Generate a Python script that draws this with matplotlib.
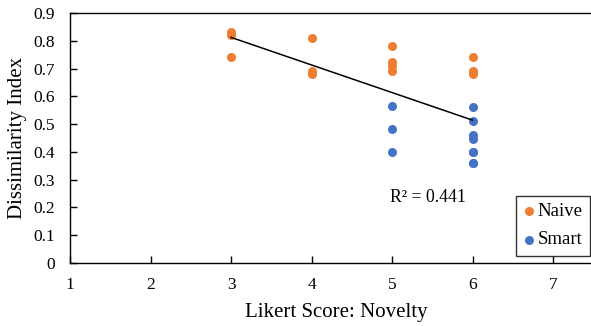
import numpy as np
import matplotlib
matplotlib.use('Agg')
import matplotlib.pyplot as plt

# ---- data (some points at x=6 overlap exactly) ----
naive_x = [3, 3, 3, 4, 4, 4, 5, 5, 5, 5, 6, 6, 6]
naive_y = [0.83, 0.82, 0.74, 0.81, 0.69, 0.68, 0.78, 0.725, 0.71, 0.69, 0.74, 0.69, 0.68]
smart_x = [5, 5, 5, 6, 6, 6, 6, 6, 6, 6, 6]
smart_y = [0.565, 0.484, 0.40, 0.56, 0.51, 0.46, 0.445, 0.40, 0.40, 0.36, 0.36]
r2_label = 'R² = 0.441'
x_ticks = [1, 2, 3, 4, 5, 6, 7]
y_ticks = [0, 0.1, 0.2, 0.3, 0.4, 0.5, 0.6, 0.7, 0.8, 0.9]

plt.rcParams['font.family'] = ['Liberation Serif', 'DejaVu Serif']

W, H = 591, 326
fig = plt.figure(figsize=(W / 100, H / 100), dpi=100)
# axes runs past the right edge (image is cropped there)
ax = fig.add_axes([70 / W, (H - 263) / H, 563.5 / W, 250 / H])

ax.scatter(naive_x, naive_y, s=42, color='#ED7D31', label='Naive', zorder=3, linewidths=0)
ax.scatter(smart_x, smart_y, s=42, color='#4472C4', label='Smart', zorder=3, linewidths=0)

# linear trendline over all points
all_x = np.array(naive_x + smart_x, dtype=float)
all_y = np.array(naive_y + smart_y)
k, b = np.polyfit(all_x, all_y, 1)
xs = np.array([all_x.min(), all_x.max()])
ax.plot(xs, k * xs + b, color='black', lw=1.1, zorder=4)

ax.text(4.975, 0.234, r2_label, fontsize=12.8, va='center', ha='left')

ax.set_xlim(1, 8)
ax.set_ylim(0, 0.9)
ax.set_xticks(x_ticks)
ax.set_yticks(y_ticks)
ax.set_yticklabels(['0'] + ['%.1f' % v for v in y_ticks[1:]])
ax.tick_params(direction='in', length=5, width=1, labelsize=12.5, colors='black')
ax.tick_params(axis='x', pad=10)
ax.tick_params(axis='y', pad=11)
for s in ax.spines.values():
    s.set_linewidth(1)
    s.set_color('black')

fig.text(336 / W, 1 - 312 / H, 'Likert Score: Novelty', fontsize=15,
         ha='center', va='center')
fig.text(17.5 / W, 1 - 138 / H, 'Dissimilarity Index', fontsize=15,
         ha='center', va='center', rotation=90)

leg = fig.legend(loc='lower right', bbox_to_anchor=(590 / W, (H - 256) / H),
                 fontsize=13.5, frameon=True, fancybox=False, edgecolor='black',
                 handletextpad=0.17, handlelength=0.6, borderpad=0.4,
                 labelspacing=0.6, borderaxespad=0)
leg.get_frame().set_linewidth(1)

fig.savefig('out.png', dpi=100)
